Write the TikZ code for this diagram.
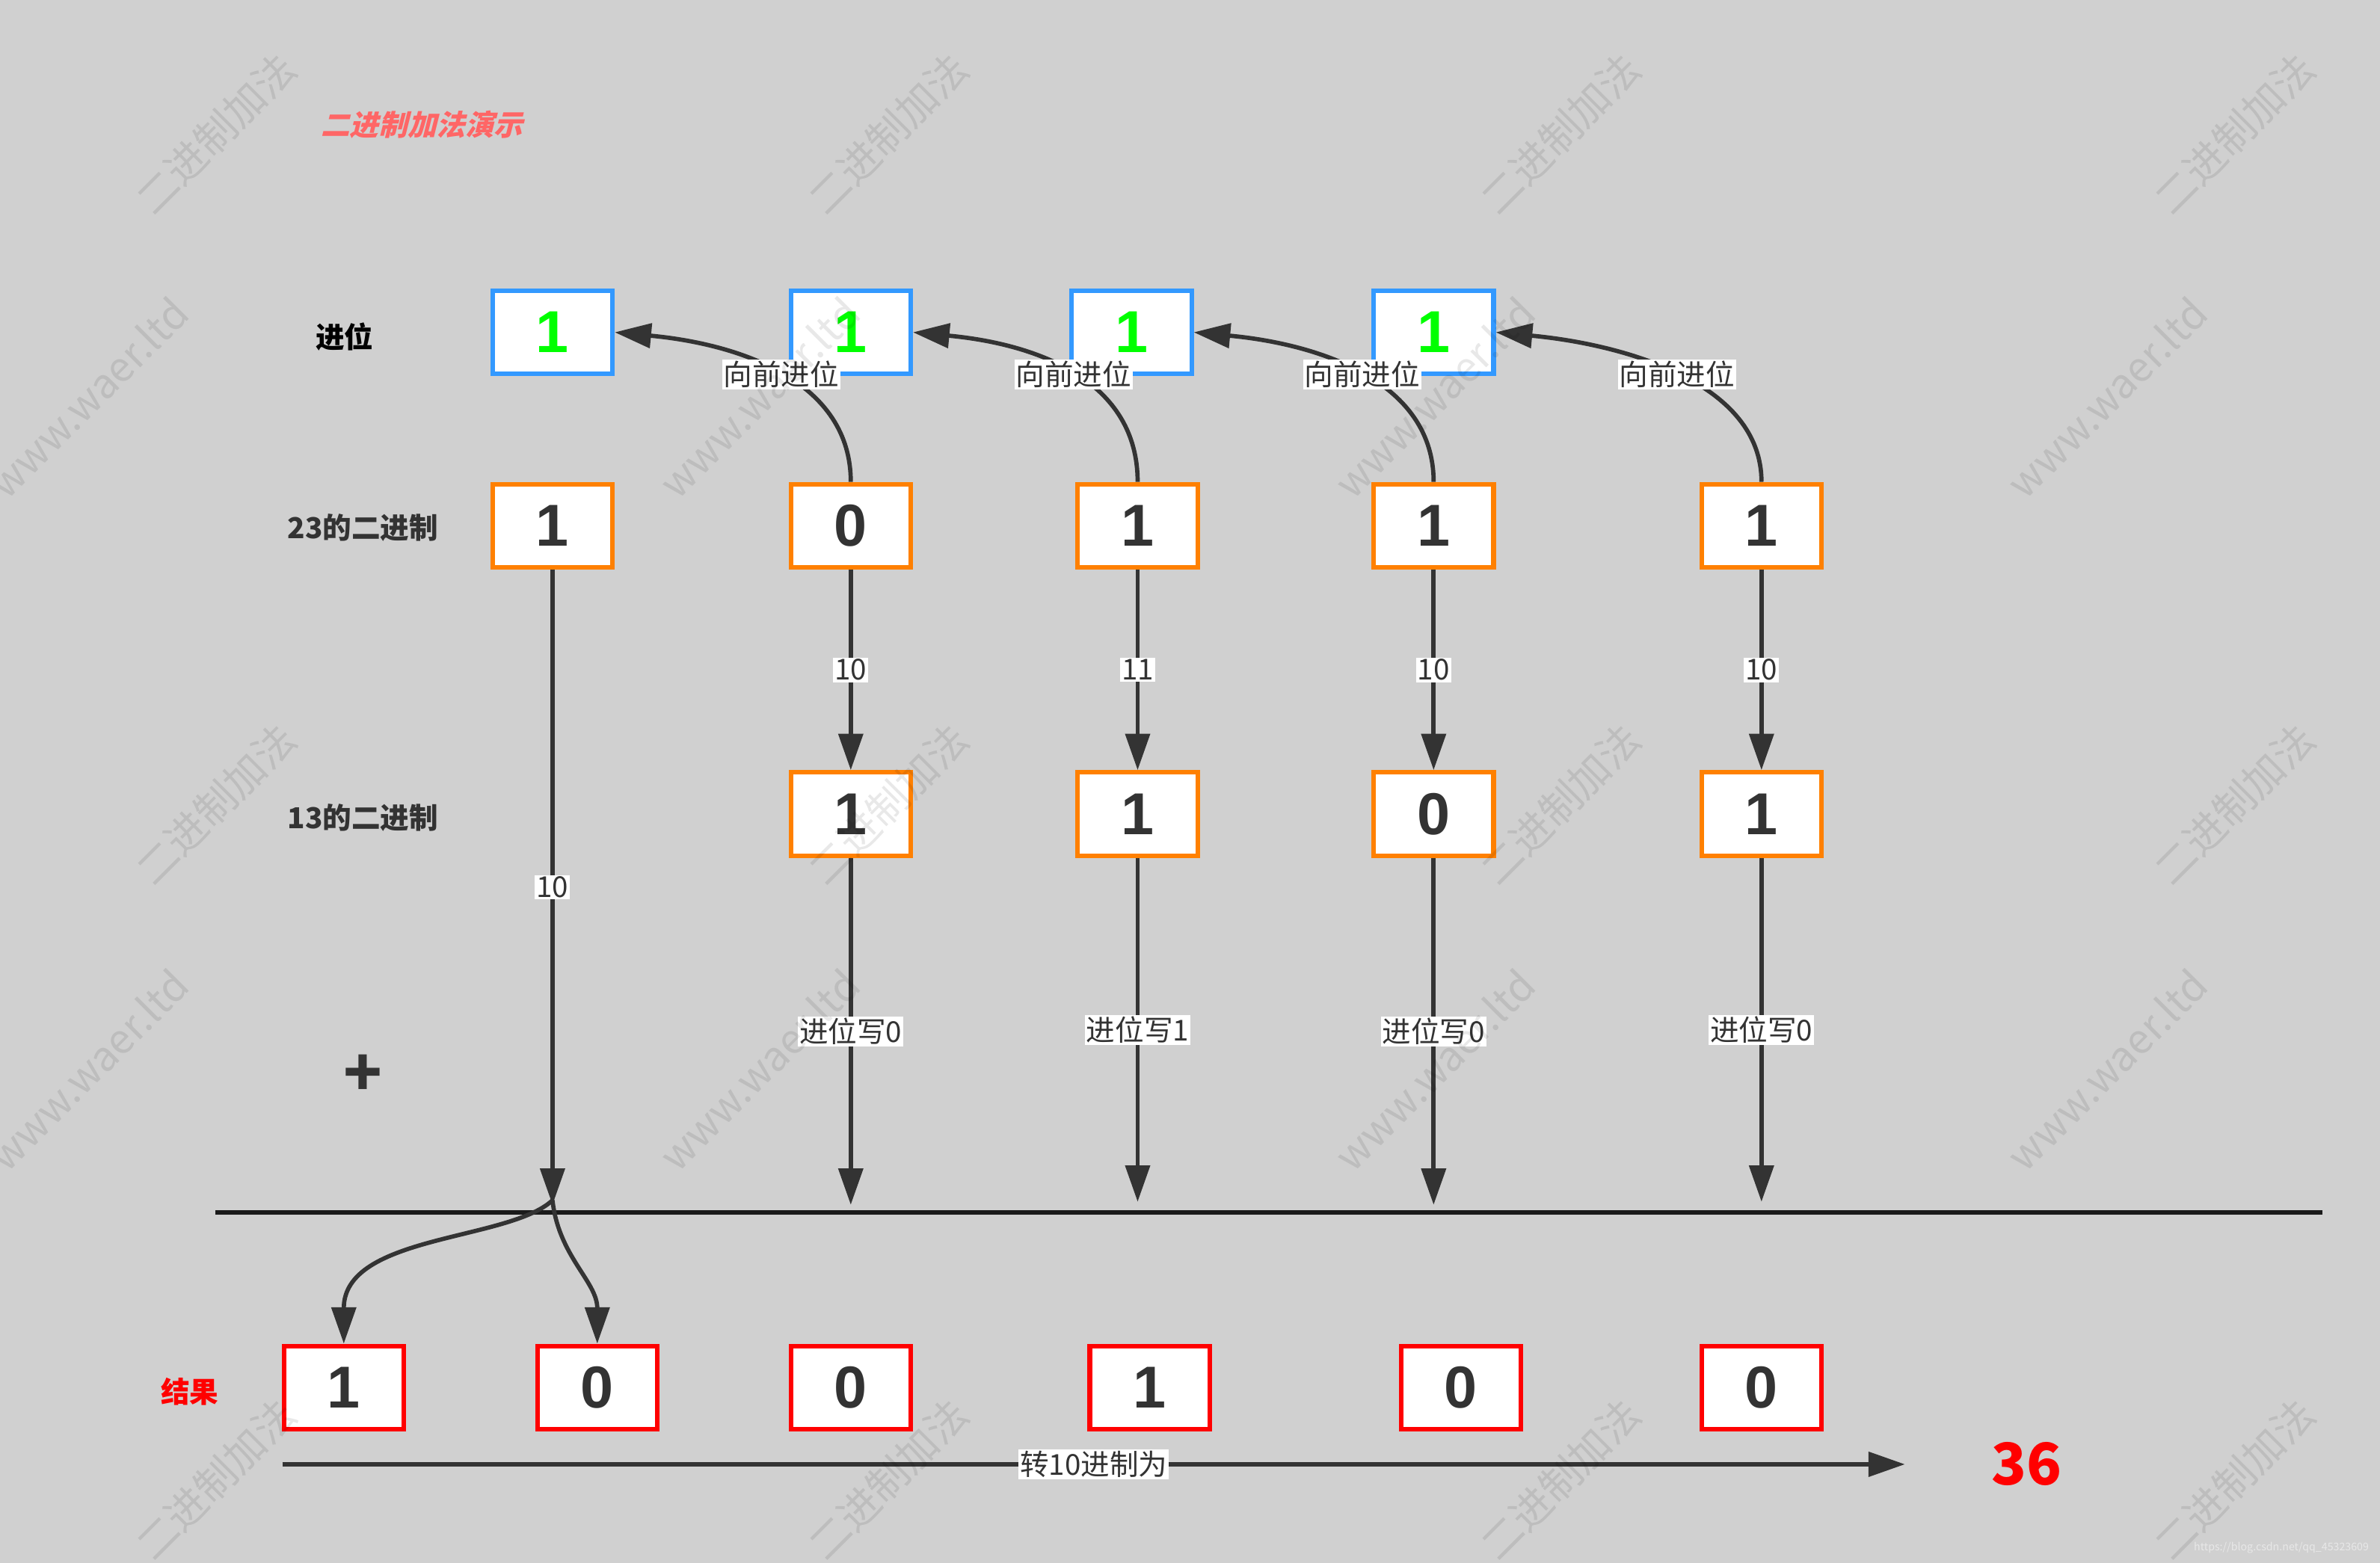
\documentclass[tikz,border=0pt]{standalone}
\usepackage{fontspec}
\setmainfont{Noto Sans CJK SC}
\newfontfamily\numfont{Liberation Sans}
\newfontfamily\titlefont[FakeSlant=0.25]{Noto Sans CJK SC}
\usetikzlibrary{arrows.meta}
\definecolor{bggray}{RGB}{208,208,208}
\definecolor{inkgray}{RGB}{51,51,51}
\definecolor{rulegray}{RGB}{26,26,26}
\definecolor{carryblue}{RGB}{51,153,255}
\definecolor{carrygreen}{RGB}{0,255,0}
\definecolor{bitorange}{RGB}{255,128,0}
\definecolor{titlered}{RGB}{255,102,102}
\definecolor{urlgray}{RGB}{232,232,232}

\begin{document}
\begin{tikzpicture}[x=1pt,y=1pt,
  box/.style={draw,line width=3pt,fill=white,minimum width=79pt,minimum height=55pt,
    inner sep=0pt,text=inkgray,font=\numfont\fontsize{39}{39}\selectfont\bfseries},
  carrybox/.style={box,draw=carryblue,text=carrygreen},
  bitbox/.style={box,draw=bitorange},
  resbox/.style={box,draw=red},
  tag/.style={fill=white,inner sep=1pt,text=inkgray,font=\fontsize{19}{19}\selectfont},
  rowname/.style={text=inkgray,font=\fontsize{19}{19}\selectfont\bfseries},
  link/.style={draw=inkgray,line width=2.8pt,-{Triangle[length=24pt,width=16pt]}},
  wm/.style={rotate=45,text=black,text opacity=0.09,font=\fontsize{27}{27}\selectfont},
]
\useasboundingbox (0,0) rectangle (1568,-1030);
\fill[bggray] (0,0) rectangle (1568,-1030);

\node[text=titlered,font=\titlefont\fontsize{19}{19}\selectfont\bfseries] (title) at (278,-82) {二进制加法演示};
\node[rowname,text=black] (nCarry) at (227,-222) {进位};
\node[rowname] (nA) at (239,-348) {23的二进制};
\node[rowname] (nB) at (239,-539) {13的二进制};
\node[rowname,font=\fontsize{42}{42}\selectfont\bfseries] (nPlus) at (239,-709) {+};
\node[rowname,text=red] (nRes) at (125,-917) {结果};

% carry row
\node[carrybox] (c1) at (364,-219) {1};
\node[carrybox] (c2) at (560.5,-219) {1};
\node[carrybox] (c3) at (745.5,-219) {1};
\node[carrybox] (c4) at (944.5,-219) {1};

% 23
\node[bitbox] (a1) at (364,-346.5) {1};
\node[bitbox] (a2) at (560.5,-346.5) {0};
\node[bitbox] (a3) at (749.5,-346.5) {1};
\node[bitbox] (a4) at (944.5,-346.5) {1};
\node[bitbox] (a5) at (1160.5,-346.5) {1};

% 13
\node[bitbox] (b2) at (560.5,-536.5) {1};
\node[bitbox] (b3) at (749.5,-536.5) {1};
\node[bitbox] (b4) at (944.5,-536.5) {0};
\node[bitbox] (b5) at (1160.5,-536.5) {1};

% result
\node[resbox] (r1) at (226.5,-914.5) {1};
\node[resbox] (r2) at (393.5,-914.5) {0};
\node[resbox] (r3) at (560.5,-914.5) {0};
\node[resbox] (r4) at (757.5,-914.5) {1};
\node[resbox] (r5) at (962.5,-914.5) {0};
\node[resbox] (r6) at (1160.5,-914.5) {0};

\node[text=red,font=\fontsize{38}{38}\selectfont\bfseries] (dec) at (1335,-965) {36};
\node[text=urlgray,font=\fontsize{7}{7}\selectfont] (url) at (1503,-1020) {https://blog.csdn.net/qq\_45323609};

\draw[rulegray,line width=3pt] (142,-799) -- (1530,-799);

\coordinate (s1) at (364,-794);
\coordinate (s2) at (560.5,-794);
\coordinate (s3) at (749.5,-792);
\coordinate (s4) at (944.5,-794);
\coordinate (s5) at (1160.5,-792);
\coordinate (fork) at (364,-791);
\coordinate (convA) at (186,-965);
\coordinate (convB) at (1255,-965);

\draw[link] (a1) -- node[tag] {10} (s1);
\draw[link] (a2) -- node[tag] {10} (b2);
\draw[link] (a3) -- node[tag] {11} (b3);
\draw[link] (a4) -- node[tag] {10} (b4);
\draw[link] (a5) -- node[tag] {10} (b5);
\draw[link] (b2) -- node[tag] {进位写0} (s2);
\draw[link] (b3) -- node[tag] {进位写1} (s3);
\draw[link] (b4) -- node[tag] {进位写0} (s4);
\draw[link] (b5) -- node[tag] {进位写0} (s5);

\draw[link] (a2.north) .. controls +(0,65) and +(85,-8) .. (c1.east) node[tag,pos=0.5] {向前进位};
\draw[link] (a3.north) .. controls +(0,65) and +(85,-8) .. (c2.east) node[tag,pos=0.5] {向前进位};
\draw[link] (a4.north) .. controls +(0,65) and +(85,-8) .. (c3.east) node[tag,pos=0.5] {向前进位};
\draw[link] (a5.north) .. controls +(0,65) and +(85,-8) .. (c4.east) node[tag,pos=0.5] {向前进位};

\draw[link] (fork) .. controls +(-29,-27) and +(0,72) .. (r1.north);
\draw[link] (fork) .. controls +(4,-37) and +(0,41) .. (r2.north);

\draw[link] (convA) -- node[tag] {转10进制为} (convB);

% watermarks
\node[wm] (w1) at (142,-88) {二进制加法};
\node[wm] (w2) at (585,-88) {二进制加法};
\node[wm] (w3) at (1028,-88) {二进制加法};
\node[wm] (w4) at (1472,-88) {二进制加法};
\node[wm] (w5) at (142,-530) {二进制加法};
\node[wm] (w6) at (585,-530) {二进制加法};
\node[wm] (w7) at (1028,-530) {二进制加法};
\node[wm] (w8) at (1472,-530) {二进制加法};
\node[wm] (w9) at (142,-975) {二进制加法};
\node[wm] (w10) at (585,-975) {二进制加法};
\node[wm] (w11) at (1028,-975) {二进制加法};
\node[wm] (w12) at (1472,-975) {二进制加法};
\node[wm] (w13) at (58,-262) {www.waer.ltd};
\node[wm] (w14) at (500,-262) {www.waer.ltd};
\node[wm] (w15) at (945,-262) {www.waer.ltd};
\node[wm] (w16) at (1388,-262) {www.waer.ltd};
\node[wm] (w17) at (58,-705) {www.waer.ltd};
\node[wm] (w18) at (500,-705) {www.waer.ltd};
\node[wm] (w19) at (945,-705) {www.waer.ltd};
\node[wm] (w20) at (1388,-705) {www.waer.ltd};
\end{tikzpicture}
\end{document}
